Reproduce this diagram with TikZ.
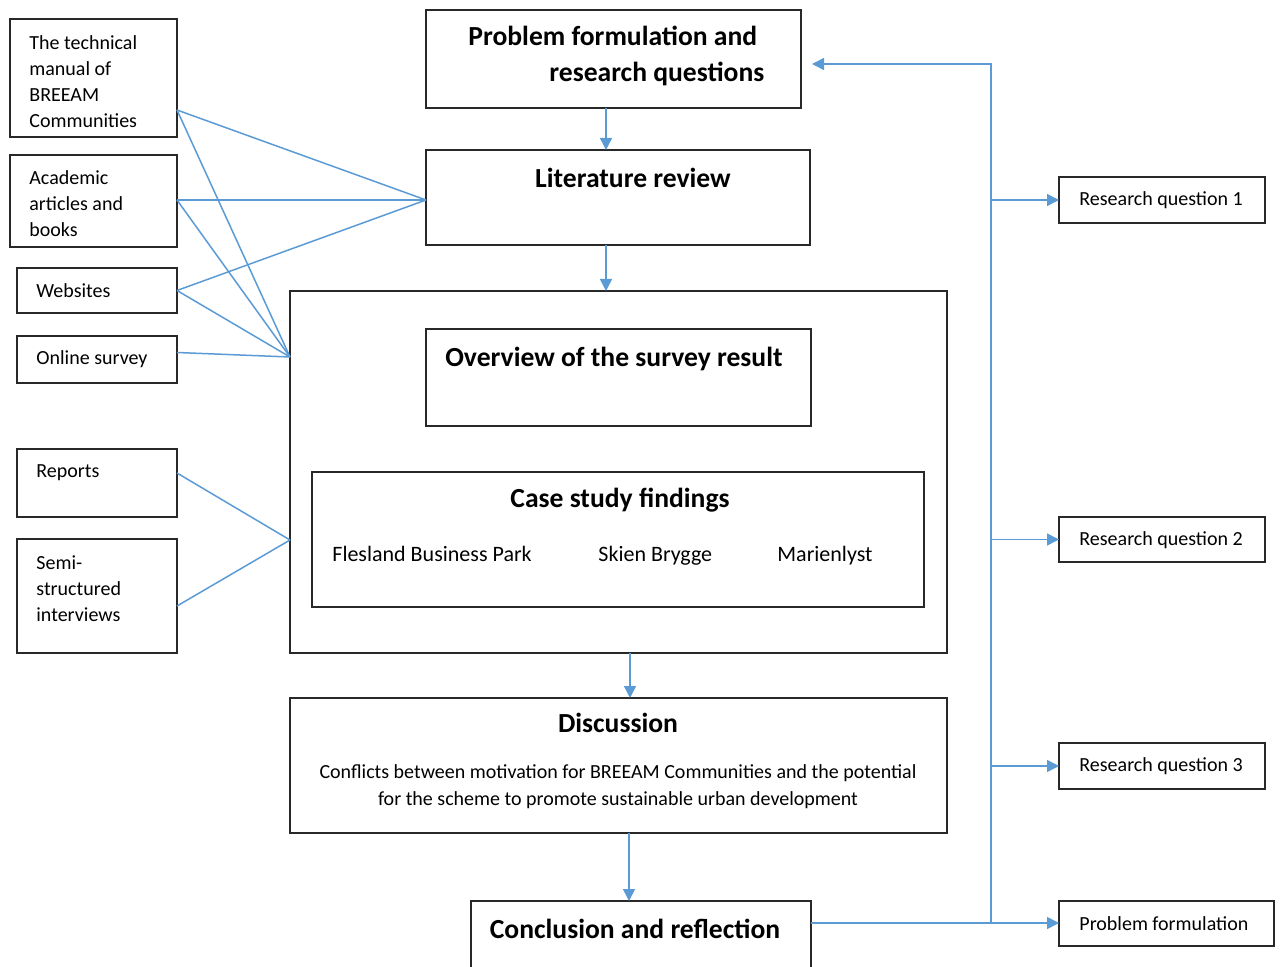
\documentclass[tikz,border=0pt]{standalone}
\usepackage{fontspec}
\setmainfont{Carlito}
\usetikzlibrary{arrows.meta,calc}
\definecolor{flowblue}{RGB}{91,155,213}
\definecolor{boxline}{RGB}{40,40,40}
% empty framed box given by its corners (x1,y1) (x2,y2)
\newcommand\boxat[5]{\node[box,minimum width={(#4-#2)*0.5pt},minimum height={(#5-#3)*0.5pt}] (#1) at ({(#2+#4)/2},{(#3+#5)/2}) {};}
\begin{document}
\begin{tikzpicture}[x=0.5pt,y=-0.5pt,
  box/.style={draw=boxline,line width=1.1pt,inner sep=0pt,outer sep=0pt},
  txt/.style={inner sep=0pt,font=\fontsize{10}{13}\selectfont,align=left,anchor=west},
  item/.style={inner sep=0pt,font=\fontsize{11}{13}\selectfont,anchor=base west},
  head/.style={inner sep=0pt,font=\fontsize{13.8}{18}\selectfont\bfseries,align=center},
  link/.style={draw=flowblue,line width=0.75pt},
  arr/.style={link,-{Triangle[length=6pt,width=6pt]}}]
\useasboundingbox (0,0) rectangle (1283,967);
\clip (0,0) rectangle (1283,967);

% source boxes on the left
\boxat{tech}{10}{19}{177}{137}
\boxat{acad}{10}{155}{177}{247}
\boxat{web}{17}{268}{177}{313}
\boxat{surv}{17}{336}{177}{383}
\boxat{rep}{17}{449}{177}{517}
\boxat{semi}{17}{539}{177}{653}
\node[txt] (techT) at (29,81.5) {The technical\\manual of\\BREEAM\\Communities};
\node[txt] (acadT) at (29,203.5) {Academic\\articles and\\books};
\node[txt] (webT) at (36,291) {Websites};
\node[txt] (survT) at (36,359) {Online survey};
\node[txt] (repT) at (36,473) {Reports};
\node[txt] (semiT) at (36,589) {Semi-\\structured\\interviews};

% main flow
\boxat{prob}{426}{10}{801}{108}
\node[head,align=left,anchor=west] (probT) at (468,56) {Problem formulation and\\\hspace*{40.5pt}research questions};
\boxat{lit}{426}{150}{810}{245}
\node[head] (litT) at (633,178) {Literature review};
\boxat{big}{290}{291}{947}{653}
\boxat{over}{426}{329}{811}{426}
\node[head] (overT) at (614,359) {Overview of the survey result};
\boxat{case}{312}{472}{924}{607}
\node[head] (caseT) at (620,500) {Case study findings};
\node[item] (fles) at (332,561) {Flesland Business Park};
\node[item] (skien) at (598,561) {Skien Brygge};
\node[item] (marie) at (777,561) {Marienlyst};
\boxat{disc}{290}{698}{947}{833}
\node[head] (discH) at (618,723) {Discussion};
\node[txt,anchor=center,align=center,font=\fontsize{10}{13.5}\selectfont] (discT) at (618,786.5) {Conflicts between motivation for BREEAM Communities and the potential\\for the scheme to promote sustainable urban development};
\boxat{concl}{471}{901}{811}{1010}
\node[head] (conclT) at (635,929) {Conclusion and reflection};

% outcome boxes on the right
\boxat{rq1}{1059}{177}{1265}{223}
\boxat{rq2}{1059}{517}{1265}{562}
\boxat{rq3}{1059}{743}{1265}{789}
\boxat{pf}{1059}{901}{1274}{946}
\node[txt] (rq1T) at (1079,200) {Research question 1};
\node[txt] (rq2T) at (1079,540) {Research question 2};
\node[txt] (rq3T) at (1079,766) {Research question 3};
\node[txt] (pfT) at (1079,924) {Problem formulation};

% sources feeding the literature review and the analysis
\coordinate (litIn) at ([yshift=-1.25pt]lit.west);
\coordinate (bigIn) at ([yshift=-33pt]big.north west);
\coordinate (bigIn2) at ([yshift=-34pt]big.west);
\coordinate (techOut) at ([yshift=13.5pt]tech.south east);
\draw[link] (techOut) -- (litIn);
\draw[link] (techOut) -- (bigIn);
\draw[link] ([yshift=0.5pt]acad.east) -- (litIn);
\draw[link] ([yshift=0.5pt]acad.east) -- (bigIn);
\draw[link] (web.east) -- (litIn);
\draw[link] (web.east) -- (bigIn);
\draw[link] ([yshift=3.5pt]surv.east) -- (bigIn);
\draw[link] ([yshift=5pt]rep.east) -- (bigIn2);
\draw[link] ([yshift=-5pt]semi.east) -- (bigIn2);

% vertical flow arrows
\draw[arr] ([xshift=-3.75pt]prob.south) -- ([xshift=-3.75pt]prob.south |- lit.north);
\draw[arr] ([xshift=-6pt]lit.south) -- ([xshift=-6pt]lit.south |- big.north);
\draw[arr] ([xshift=5.75pt]big.south) -- ([xshift=5.75pt]big.south |- disc.north);
\draw[arr] ([xshift=5.25pt]disc.south) -- ([xshift=5.25pt]disc.south |- concl.north);

% feedback bus on the right
\coordinate (busTop) at (991,64);
\coordinate (fbTip) at (812,64);
\coordinate (concOut) at ([yshift=-11pt]concl.north east);
\coordinate (busBot) at (concOut -| busTop);
\draw[arr] (concOut) -- (concOut -| pf.west);
\draw[arr] (busBot) -- (busTop) -- (fbTip);
\draw[arr] (rq1.west -| busTop) -- (rq1.west);
\draw[arr] (rq2.west -| busTop) -- (rq2.west);
\draw[arr] (rq3.west -| busTop) -- (rq3.west);
\end{tikzpicture}
\end{document}
